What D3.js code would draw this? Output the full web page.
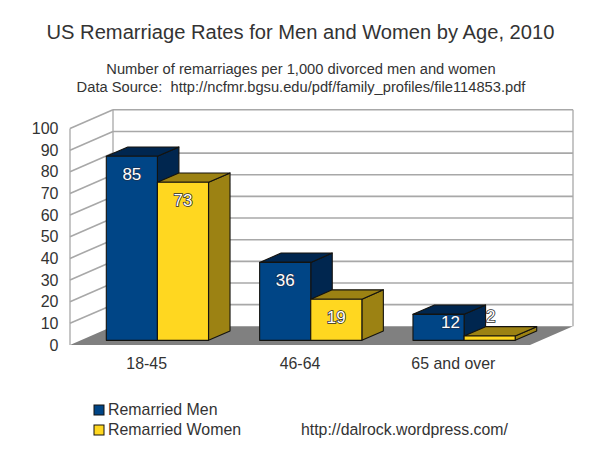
<!DOCTYPE html>
<html>
<head>
<meta charset="utf-8">
<script src="https://cdnjs.cloudflare.com/ajax/libs/d3/7.8.5/d3.min.js"></script>
<style>
	html, body { margin: 0; padding: 0; background: #fff; }
	text { font-family: "Liberation Sans", Arial, sans-serif; fill: #333; }
	.axis path, .axis line { display: none; }
	.axis text { font-family: "Liberation Sans", Arial, sans-serif; fill: #333; }
</style>
</head>
<body>
<div id="chart"></div>
<script>
var categories = ["18-45", "46-64", "65 and over"];
var men = [85, 36, 12];
var women = [73, 19, 2];
var series_names = ["Remarried Men", "Remarried Women"];
var value_ticks = [0, 10, 20, 30, 40, 50, 60, 70, 80, 90, 100];

var colors = [
	{front: "#004586", dark: "#00264f"},
	{front: "#ffd720", dark: "#9c8213"}
];

var depth_x = 43, depth_y = -18.7;

window.onload = function() {
	main();
};

function main() {
	var svg = d3.select("#chart").append("svg")
		.attr("width", 602)
		.attr("height", 450)
		.style("display", "block");

	var x = d3.scaleBand()
		.domain(categories)
		.range([70, 530])
		.paddingInner(1/3)
		.paddingOuter(1/6);
	var y = d3.scaleLinear().domain([0, 100]).range([345, 128.5]);

	draw_titles(svg);
	draw_walls(svg, y);
	draw_axes(svg, x, y);
	draw_bars(svg, x, y);
	draw_labels(svg, x, y);
	draw_legend(svg);
}

// point in the 3d box: depth 0 is the front plane, 1 the back wall
function px(xv, d) { return xv + d * depth_x; }
function py(yv, d) { return yv + d * depth_y; }

function poly(g, pts, fill) {
	g.append("polygon")
		.attr("points", pts.map(function(p) { return p.join(","); }).join(" "))
		.attr("fill", fill)
		.attr("stroke", "#14130f")
		.attr("stroke-width", 1.1)
		.attr("stroke-linejoin", "round");
}

function draw_titles(svg) {
	svg.append("text").attr("x", 300.5).attr("y", 39)
		.attr("text-anchor", "middle").style("font-size", "20.15px")
		.text("US Remarriage Rates for Men and Women by Age, 2010");
	svg.append("text").attr("x", 301).attr("y", 74)
		.attr("text-anchor", "middle").style("font-size", "14.7px")
		.text("Number of remarriages per 1,000 divorced men and women");
	svg.append("text").attr("x", 301).attr("y", 92)
		.attr("text-anchor", "middle").style("font-size", "14.7px")
		.style("white-space", "pre")
		.text("Data Source:  http://ncfmr.bgsu.edu/pdf/family_profiles/file114853.pdf");
}

function draw_walls(svg, y) {
	var grid = "#a8a8a8";
	var g = svg.append("g");
	var x0 = 70, x1 = 530;

	// floor
	g.append("polygon")
		.attr("points", [
			[x0, y(0)], [x1, y(0)], [px(x1, 1), py(y(0), 1)], [px(x0, 1), py(y(0), 1)]
		].map(function(p) { return p.join(","); }).join(" "))
		.attr("fill", "#808080");

	value_ticks.forEach(function(v) {
		if (v > 0) {
			g.append("line")
				.attr("x1", x0).attr("y1", y(v))
				.attr("x2", px(x0, 1)).attr("y2", py(y(v), 1))
				.attr("stroke", grid).attr("stroke-width", 1.6);
			g.append("line")
				.attr("x1", px(x0, 1)).attr("y1", py(y(v), 1))
				.attr("x2", px(x1, 1)).attr("y2", py(y(v), 1))
				.attr("stroke", grid).attr("stroke-width", 1.6);
		}
	});

	[[x0, 0], [x0, 1], [x1, 1]].forEach(function(c) {
		g.append("line")
			.attr("x1", px(c[0], c[1])).attr("y1", py(y(0), c[1]))
			.attr("x2", px(c[0], c[1])).attr("y2", py(y(100), c[1]))
			.attr("stroke", grid).attr("stroke-width", 1.3);
	});
}

function draw_axes(svg, x, y) {
	var ya = svg.append("g")
		.attr("class", "axis")
		.attr("transform", "translate(70,0)")
		.call(d3.axisLeft(y).tickValues(value_ticks).tickSize(0).tickPadding(11.5));
	ya.selectAll("text").style("font-size", "16px");

	var xa = svg.append("g")
		.attr("class", "axis")
		.attr("transform", "translate(0,345)")
		.call(d3.axisBottom(x).tickSize(0).tickPadding(13));
	xa.selectAll("text").style("font-size", "15.9px");
}

function draw_bars(svg, x, y) {
	var w = x.bandwidth() / 2;
	var g = svg.append("g");

	categories.forEach(function(c, i) {
		[men[i], women[i]].forEach(function(v, s) {
			var l = px(x(c) + s * w, 0.25), r = l + w;
			var t = py(y(v), 0.25), b = py(y(0), 0.25);
			var dx = depth_x / 2, dy = depth_y / 2;
			poly(g, [[r, t], [r + dx, t + dy], [r + dx, b + dy], [r, b]], colors[s].dark);
			poly(g, [[l, t], [l + dx, t + dy], [r + dx, t + dy], [r, t]], colors[s].dark);
			poly(g, [[l, t], [r, t], [r, b], [l, b]], colors[s].front);
		});
	});
}

function draw_labels(svg, x, y) {
	var w = x.bandwidth() / 2;
	var g = svg.append("g");

	categories.forEach(function(c, i) {
		[men[i], women[i]].forEach(function(v, s) {
			var cx = px(x(c) + s * w, 0.25) + w / 2;
			var cy = py(y(v), 0.25) + 24;
			// short bars: the label gets pushed aside, as in the original
			if (v == 12) { cx += 12; cy -= 10; }
			if (v == 2) { cx += 1; cy -= 38; }
			g.append("text")
				.attr("x", cx).attr("y", cy)
				.attr("text-anchor", "middle")
				.style("font-size", "17px")
				.style("fill", "#fff")
				.style("stroke", s == 0 && v != 2 ? "#1c3355" : "#2b2b2b")
				.style("stroke-width", 1.6)
				.style("paint-order", "stroke")
				.text(v);
		});
	});
}

function draw_legend(svg) {
	var g = svg.append("g");
	series_names.forEach(function(name, i) {
		var top = 405 + i * 20;
		g.append("rect")
			.attr("x", 94).attr("y", top)
			.attr("width", 10).attr("height", 10)
			.attr("fill", colors[i].front)
			.attr("stroke", "#14130f").attr("stroke-width", 1);
		g.append("text")
			.attr("x", 108).attr("y", top + 9.5)
			.style("font-size", "15.9px")
			.text(name);
	});
	svg.append("text")
		.attr("x", 301).attr("y", 434.5)
		.style("font-size", "15.85px")
		.text("http://dalrock.wordpress.com/");
}
</script>
</body>
</html>
